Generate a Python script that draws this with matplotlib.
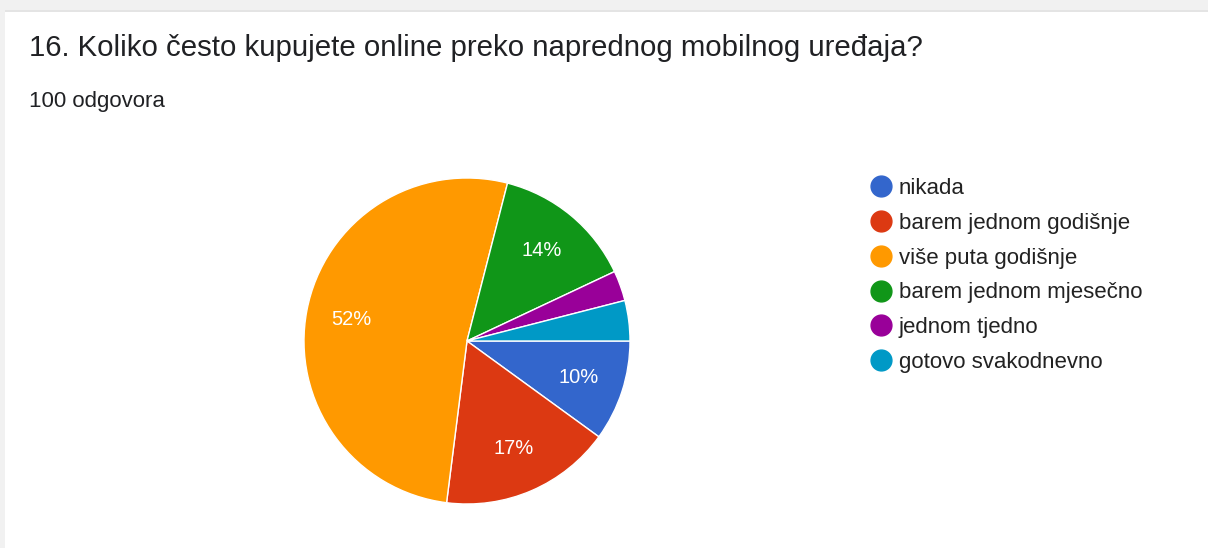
import matplotlib.pyplot as plt
from matplotlib.patches import Rectangle
from matplotlib.lines import Line2D

# podaci
kategorije = ['nikada', 'barem jednom godišnje', 'više puta godišnje',
              'barem jednom mjesečno', 'jednom tjedno', 'gotovo svakodnevno']
postoci = [10, 17, 52, 14, 3, 4]
boje = ['#3366CC', '#DC3912', '#FF9900', '#109618', '#990099', '#0099C6']

naslov = '16. Koliko često kupujete online preko naprednog mobilnog uređaja?'
podnaslov = '100 odgovora'

plt.rcParams['font.family'] = ['Liberation Sans', 'DejaVu Sans']

W, H = 1208, 548
fig = plt.figure(figsize=(W / 100, H / 100), dpi=100)
fig.patch.set_facecolor('#f1f1f1')

# bijela kartica
fig.patches.append(Rectangle((5 / W, 0), 1, 1 - 10 / H, transform=fig.transFigure,
                             facecolor='white', edgecolor='none', zorder=-10))
fig.patches.append(Rectangle((5 / W, 1 - 12 / H), 1, 2 / H, transform=fig.transFigure,
                             facecolor='#e4e4e4', edgecolor='none', zorder=-9))

fig.text(29 / W, 1 - 48 / H, naslov, fontsize=21.2, color='#202124', va='center', ha='left')
fig.text(29 / W, 1 - 101 / H, podnaslov, fontsize=16, color='#202124', va='center', ha='left')

# pita
cx, cy, r = 467, 341, 163
ax = fig.add_axes([(cx - r) / W, (H - cy - r) / H, 2 * r / W, 2 * r / H])
wedges, texts = ax.pie(postoci, colors=boje, startangle=0, counterclock=False,
                       labels=[f'{p}%' if p >= 5 else '' for p in postoci],
                       labeldistance=0.72,
                       wedgeprops=dict(edgecolor='white', linewidth=1))
for t in texts:
    t.set_color('white')
    t.set_fontsize(14.5)
    t.set_ha('center')
    t.set_va('center')
ax.set_xlim(-1, 1)
ax.set_ylim(-1, 1)
ax.set_aspect('equal')
ax.axis('off')

# legenda
ruke = [Line2D([], [], marker='o', linestyle='none', markersize=15,
               markerfacecolor=b, markeredgecolor=b) for b in boje]
fig.legend(ruke, kategorije, loc='upper left', bbox_to_anchor=(870 / W, 1 - 178 / H),
           frameon=False, fontsize=16, labelspacing=0.62, handletextpad=0.3,
           handlelength=1.0, borderaxespad=0, borderpad=0, labelcolor='#222222')

fig.savefig('out.png', dpi=100)
